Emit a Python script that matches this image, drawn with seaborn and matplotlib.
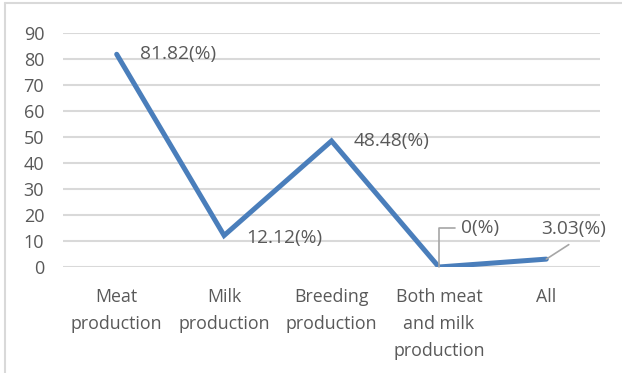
import matplotlib
matplotlib.use("Agg")
import matplotlib.pyplot as plt
import seaborn as sns
import pandas as pd
from matplotlib.lines import Line2D

categories = ["Meat\nproduction", "Milk\nproduction", "Breeding\nproduction",
              "Both meat\nand milk\nproduction", "All"]
values = [81.82, 12.12, 48.48, 0, 3.03]
value_labels = ["81.82(%)", "12.12(%)", "48.48(%)", "0(%)", "3.03(%)"]
y_ticks = [0, 10, 20, 30, 40, 50, 60, 70, 80, 90]

sns.set_theme(style="white")
plt.rcParams["font.family"] = ["Open Sans", "DejaVu Sans"]

TEXT = "#595959"
LINE = "#4a7ebb"
GRID = "#d9d9d9"

df = pd.DataFrame({"pos": range(len(categories)), "value": values})

fig = plt.figure(figsize=(6.22, 3.73), dpi=100)
ax = fig.add_axes([63 / 622, 1 - 267 / 373, (600 - 63) / 622, (267 - 33) / 373])

sns.lineplot(data=df, x="pos", y="value", ax=ax, color=LINE, linewidth=3.6,
             sort=False, solid_capstyle="round", solid_joinstyle="miter", zorder=3)

ax.set_xlim(-0.5, len(categories) - 0.5)
ax.set_ylim(0, 90)
ax.set_yticks(y_ticks)
ax.set_yticklabels([str(t) for t in y_ticks])
ax.set_xticks(range(len(categories)))
ax.set_xticklabels(categories, linespacing=1.65)
ax.tick_params(axis="y", length=0, pad=13.5, labelsize=13, labelcolor=TEXT)
ax.tick_params(axis="x", length=0, pad=15, labelsize=12.8, labelcolor=TEXT)
ax.set_xlabel("")
ax.set_ylabel("")
for s in ax.spines.values():
    s.set_visible(False)
ax.yaxis.grid(True, color=GRID, linewidth=1.5)
ax.set_axisbelow(True)

# value labels beside each point
fs = 13.8
ax.annotate(value_labels[0], (0, values[0]), xytext=(17, 0), textcoords="offset points",
            ha="left", va="center", fontsize=fs, color=TEXT)
ax.annotate(value_labels[1], (1, values[1]), xytext=(16, -2), textcoords="offset points",
            ha="left", va="center", fontsize=fs, color=TEXT)
ax.annotate(value_labels[2], (2, values[2]), xytext=(16, 0), textcoords="offset points",
            ha="left", va="center", fontsize=fs, color=TEXT)

# callouts with leader lines for the two small values
ax.annotate(value_labels[3], (3, values[3]), xytext=(16, 28), textcoords="offset points",
            ha="left", va="center", fontsize=fs, color=TEXT,
            arrowprops=dict(arrowstyle="-", color="#a6a6a6", lw=1.2,
                            connectionstyle="angle,angleA=0,angleB=90,rad=0",
                            shrinkA=2, shrinkB=0))
ax.annotate(value_labels[4], (4, values[4]), xytext=(-4, 22), textcoords="offset points",
            ha="left", va="center", fontsize=fs, color=TEXT,
            arrowprops=dict(arrowstyle="-", color="#a6a6a6", lw=1.2,
                            relpos=(0.6, 0.0), shrinkA=5, shrinkB=0))

# chart frame
fig.add_artist(Line2D([5 / 622, 5 / 622], [0, 1 - 3 / 373], transform=fig.transFigure,
                      color="#d9d9d9", lw=1.5))
fig.add_artist(Line2D([5 / 622, 1], [1 - 3 / 373, 1 - 3 / 373], transform=fig.transFigure,
                      color="#d9d9d9", lw=1.5))

fig.savefig("out.png", dpi=100, facecolor="white")
